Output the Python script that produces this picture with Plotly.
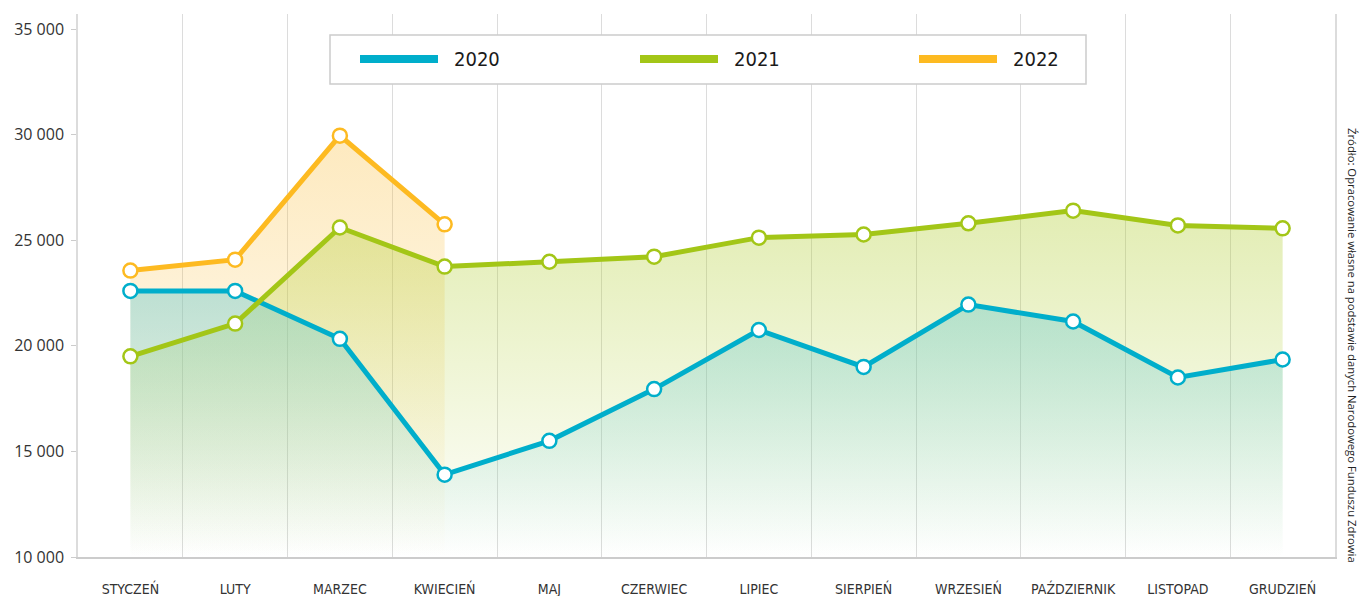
import plotly.graph_objects as go

months = ["STYCZEŃ", "LUTY", "MARZEC", "KWIECIEŃ", "MAJ", "CZERWIEC", "LIPIEC",
          "SIERPIEŃ", "WRZESIEŃ", "PAŹDZIERNIK", "LISTOPAD", "GRUDZIEŃ"]
v2020 = [22600, 22600, 20330, 13900, 15500, 17950, 20750, 19000, 21950, 21150, 18500, 19350]
v2021 = [19500, 21050, 25600, 23750, 23980, 24220, 25120, 25270, 25800, 26400, 25700, 25560]
v2022 = [23560, 24080, 29950, 25750]
years = ["2020", "2021", "2022"]
y_ticks = [10000, 15000, 20000, 25000, 30000, 35000]
source = "Źródło: Opracowanie własne na podstawie danych Narodowego Funduszu Zdrowia"

line_colors = ["#00AECB", "#A3C617", "#FDBA21"]
fill_tops = ["rgba(100,200,205,0.42)", "rgba(175,205,45,0.36)", "rgba(250,190,60,0.33)"]
fill_bots = ["rgba(100,200,205,0.0)", "rgba(175,205,45,0.0)", "rgba(250,190,60,0.0)"]
series = [v2020, v2021, v2022]

COND = "Liberation Sans Narrow, DejaVu Sans Condensed, Roboto"

fig = go.Figure()

# fills first (2022 at the back, 2020 in front)
for i in [2, 1, 0]:
    vals = series[i]
    fig.add_trace(go.Scatter(
        x=months[:len(vals)], y=vals, mode="none", fill="tozeroy",
        fillgradient=dict(type="vertical", start=10000, stop=max(vals),
                          colorscale=[[0, fill_bots[i]], [1, fill_tops[i]]]),
        hoverinfo="skip", showlegend=False))

# lines
for vals, col, name in zip(series, line_colors, years):
    fig.add_trace(go.Scatter(
        x=months[:len(vals)], y=vals, mode="lines+markers", name=name,
        line=dict(color=col, width=5),
        marker=dict(size=14, color="white", line=dict(color=col, width=2.5)),
        showlegend=False))

# custom legend
PX0, PW, PB, PH = 78, 1257, 557, 543
shapes = [dict(type="rect", xref="paper", yref="paper",
               x0=(330 - PX0) / PW, x1=(1086 - PX0) / PW,
               y0=(PB - 84) / PH, y1=(PB - 35) / PH,
               line=dict(color="#cccccc", width=1.5),
               fillcolor="white", layer="above")]
annotations = []
lx = [(360, 438, 452), (640, 718, 732), (919, 997, 1011)]
for (a, b, t), col, name in zip(lx, line_colors, years):
    shapes.append(dict(type="line", xref="paper", yref="paper",
                       x0=(a - PX0) / PW, x1=(b - PX0) / PW,
                       y0=(PB - 59) / PH, y1=(PB - 59) / PH,
                       line=dict(color=col, width=8), layer="above"))
    annotations.append(dict(xref="paper", yref="paper", x=(t - PX0) / PW,
                            y=(PB - 59) / PH, text=name, showarrow=False,
                            xanchor="left", yanchor="middle",
                            font=dict(size=20, color="#1a1a1a", family=COND)))

annotations.append(dict(xref="paper", yref="paper", x=(1353 - PX0) / PW,
                        y=(PB - 345) / PH, text=source, showarrow=False,
                        textangle=90, xanchor="center", yanchor="middle",
                        font=dict(size=11.3, color="#222222", family="Open Sans, Noto Sans")))

fig.update_layout(
    width=1360, height=596,
    margin=dict(l=78, r=25, t=14, b=39, autoexpand=False),
    paper_bgcolor="white", plot_bgcolor="white",
    separators=", ",
    shapes=shapes, annotations=annotations,
    showlegend=False,
)
fig.update_xaxes(
    type="category", categoryorder="array", categoryarray=months,
    range=[-0.5, 11.5], tickson="boundaries", showgrid=True,
    gridcolor="#dcdcdc", gridwidth=1,
    showline=True, linecolor="#cccccc", linewidth=1.5,
    ticks="", ticklabelstandoff=18, automargin=False,
    tickfont=dict(size=14, color="#333333", family=COND),
    zeroline=False,
)
fig.update_yaxes(
    range=[10000, 35710], tickvals=y_ticks, tickformat=",d",
    showgrid=False, zeroline=False, automargin=False,
    showline=True, mirror=True, linecolor="#dcdcdc", linewidth=1.5,
    ticks="outside", ticklen=5, tickcolor="#cccccc",
    ticklabelstandoff=4,
    tickfont=dict(size=16, color="#333333", family="Open Sans, Noto Sans"),
)

fig.write_html("out.html", config={"displayModeBar": False},
               post_script="document.body.style.margin='0';document.body.style.overflow='hidden';")
